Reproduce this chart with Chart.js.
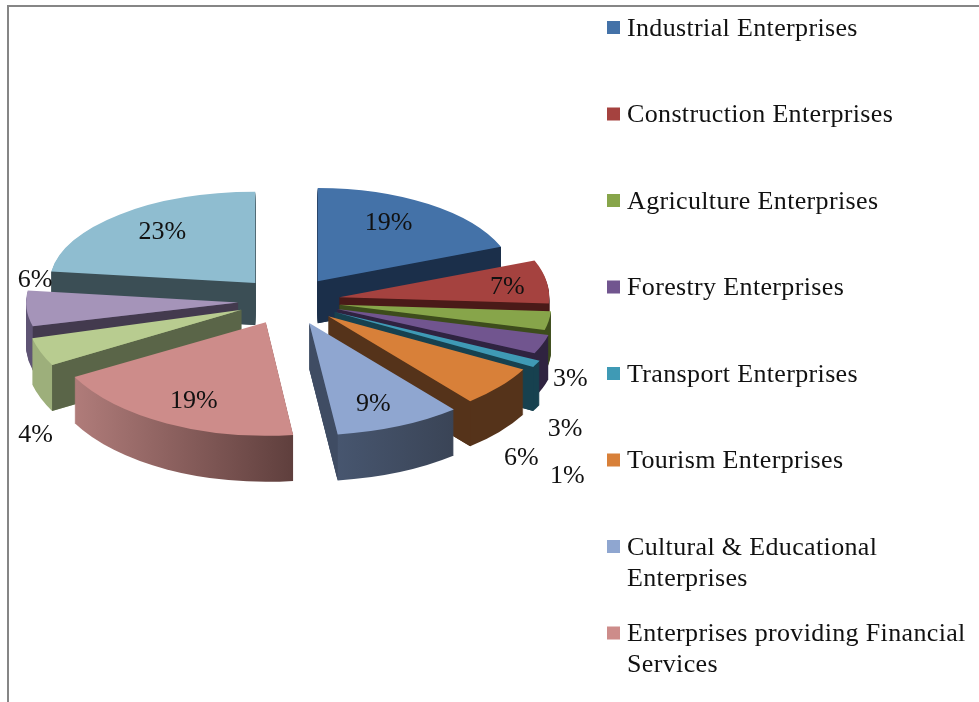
<!DOCTYPE html>
<html>
<head>
<meta charset="utf-8">
<title>Enterprises by sector</title>
<script src="https://cdn.jsdelivr.net/npm/chart.js@4"></script>
<style>
    html, body { margin: 0; padding: 0; background: #fff; overflow: hidden; }
    #wrap { position: relative; width: 979px; height: 702px; }
    #frame { position: absolute; left: 7px; top: 5px; right: 0; bottom: 0; border-top: 2px solid #868686; border-left: 2px solid #868686; }
    #myPie { position: absolute; left: 0; top: 0; }
</style>
</head>
<body>
<div id="wrap">
    <div id="frame"></div>
    <canvas id="myPie" width="979" height="702"></canvas>
</div>
<script>
// Data. Last three names are cut off in the original legend
var categories = [
    'Industrial Enterprises',
    'Construction Enterprises',
    'Agriculture Enterprises',
    'Forestry Enterprises',
    'Transport Enterprises',
    'Tourism Enterprises',
    ['Cultural & Educational', 'Enterprises'],
    ['Enterprises providing Financial', 'Services'],
    'Category 9',
    'Category 10',
    'Category 11'
];
var shares = [19, 7, 3, 3, 1, 6, 9, 19, 4, 6, 23];
var legendCount = 8;

// Styles, one per slice
var topColors = ['#4472a8', '#a5423f', '#87a54a', '#71558f', '#3f9ab5', '#d88039', '#8fa6d0', '#cd8c8a', '#b8cc90', '#a594b9', '#8fbdd0'];
var cutColors = ['#1b2f4a', '#4a1a18', '#3d4c1c', '#2f2340', '#17414f', '#55331a', '#3f4c63', '#6a4543', '#5a6548', '#433a4e', '#3b4e55'];
var wallFrom = ['#1b2f4a', '#4a1a18', '#3d4c1c', '#2f2340', '#17414f', '#55331a', '#4a5a75', '#b07c7a', '#9daf7b', '#5f5474', '#3b4e55'];
var wallTo = ['#1b2f4a', '#4a1a18', '#3d4c1c', '#2f2340', '#17414f', '#55331a', '#3a4456', '#5f3f3d', '#9daf7b', '#5f5474', '#3b4e55'];

// Fake 3D: the far slices are squeezed more than the near ones
var squashX = [0.93, 0.99, 1, 1.03, 1.07, 1.05, 1.07, 1.03, 1.02, 1, 0.97];
var squashY = [0.44, 0.47, 0.48, 0.49, 0.54, 0.52, 0.53, 0.535, 0.54, 0.45, 0.43];
var depths = [42, 43, 43, 44, 44, 45, 46, 46, 46, 44, 42];
var explode = 51;
var tilt = 0.47;
var pieCenter = { x: 289, y: 301 };
var pieRadius = 212;

// Where each % label sits relative to the tip of its slice
var labelShift = [[71, -58], [168, -10], [231, 74], [228, 120], [233, 164], [193, 142], [64, 81], [-72, 79], [-206, 125], [-203, -22], [-93, -51]];

function sliceTip(arc) {
    var mid = (arc.startAngle + arc.endAngle) / 2;
    return {
        x: arc.x + Math.cos(mid) * explode,
        y: arc.y + Math.sin(mid) * explode * tilt
    };
}

function drawWall(ctx, arc, i) {
    var tip = sliceTip(arc);
    var r = arc.outerRadius;
    var sx = squashX[i], sy = squashY[i];
    var x1 = Math.cos(arc.startAngle) * r, x2 = Math.cos(arc.endAngle) * r;
    var left = Math.min(0, x1, x2), right = Math.max(0, x1, x2);

    // round outer wall, built from the slice shape stacked downwards
    for (var d = depths[i]; d > 0; d--) {
        ctx.save();
        ctx.translate(tip.x, tip.y + d);
        ctx.scale(sx, sy);
        var g = ctx.createLinearGradient(left, 0, right, 0);
        g.addColorStop(0, wallFrom[i]);
        g.addColorStop(1, wallTo[i]);
        ctx.fillStyle = g;
        ctx.beginPath();
        ctx.moveTo(0, 0);
        ctx.arc(0, 0, r, arc.startAngle, arc.endAngle);
        ctx.closePath();
        ctx.fill();
        ctx.restore();
    }

    // flat cut faces that look towards the viewer
    [[arc.startAngle, Math.cos(arc.startAngle) < 0], [arc.endAngle, Math.cos(arc.endAngle) > 0]].forEach(function (edge) {
        if (!edge[1]) return;
        var ex = tip.x + Math.cos(edge[0]) * r * sx;
        var ey = tip.y + Math.sin(edge[0]) * r * sy;
        ctx.fillStyle = cutColors[i];
        ctx.beginPath();
        ctx.moveTo(tip.x, tip.y);
        ctx.lineTo(ex, ey);
        ctx.lineTo(ex, ey + depths[i]);
        ctx.lineTo(tip.x, tip.y + depths[i]);
        ctx.closePath();
        ctx.fill();
    });
}

var pie3d = {
    id: 'pie3d',
    beforeDatasetDraw: function (chart, args) {
        var ctx = chart.ctx;
        var arcs = args.meta.data;
        // back to front so that near slices cover the walls behind them
        var order = arcs.map(function (a, i) { return i; }).sort(function (p, q) {
            return Math.sin((arcs[p].startAngle + arcs[p].endAngle) / 2) - Math.sin((arcs[q].startAngle + arcs[q].endAngle) / 2);
        });
        order.forEach(function (i) {
            var arc = arcs[i];
            var tip = sliceTip(arc);
            drawWall(ctx, arc, i);
            ctx.save();
            ctx.translate(tip.x, tip.y);
            ctx.scale(squashX[i], squashY[i]);
            ctx.translate(-arc.x, -arc.y);
            arc.draw(ctx);
            ctx.restore();
        });
        return false;
    },
    afterDatasetsDraw: function (chart) {
        var ctx = chart.ctx;
        var arcs = chart.getDatasetMeta(0).data;
        ctx.save();
        ctx.fillStyle = '#111';
        ctx.font = '26px "Liberation Serif"';
        ctx.textAlign = 'center';
        ctx.textBaseline = 'middle';
        arcs.forEach(function (arc, i) {
            var tip = sliceTip(arc);
            ctx.fillText(shares[i] + '%', tip.x + labelShift[i][0], tip.y + labelShift[i][1]);
        });
        ctx.restore();
    }
};

// Legend has even rows even when a label wraps, the built in one can't do that
var sideLegend = {
    id: 'sideLegend',
    afterDraw: function (chart) {
        var ctx = chart.ctx;
        ctx.save();
        ctx.font = '26px "Liberation Serif"';
        ctx.letterSpacing = '0.35px';
        ctx.textAlign = 'left';
        ctx.textBaseline = 'middle';
        for (var i = 0; i < legendCount; i++) {
            var y = 28 + i * 86.5;
            var lines = [].concat(categories[i]);
            ctx.fillStyle = topColors[i];
            ctx.fillRect(607, y - 7, 13, 13);
            ctx.fillStyle = '#111';
            lines.forEach(function (line, n) {
                ctx.fillText(line, 627, y + 1 + n * 31);
            });
        }
        ctx.restore();
    }
};

document.addEventListener('DOMContentLoaded', function () {
    var ctx = document.getElementById('myPie').getContext('2d');
    new Chart(ctx, {
        type: 'pie',
        data: {
            labels: categories,
            datasets: [{
                data: shares,
                backgroundColor: topColors,
                borderWidth: 0
            }]
        },
        options: {
            responsive: false,
            animation: false,
            layout: {
                padding: {
                    left: pieCenter.x - pieRadius,
                    right: 979 - pieCenter.x - pieRadius,
                    top: pieCenter.y - pieRadius,
                    bottom: 702 - pieCenter.y - pieRadius
                }
            },
            plugins: {
                legend: { display: false },
                tooltip: { enabled: false }
            }
        },
        plugins: [pie3d, sideLegend]
    });
});
</script>
</body>
</html>
